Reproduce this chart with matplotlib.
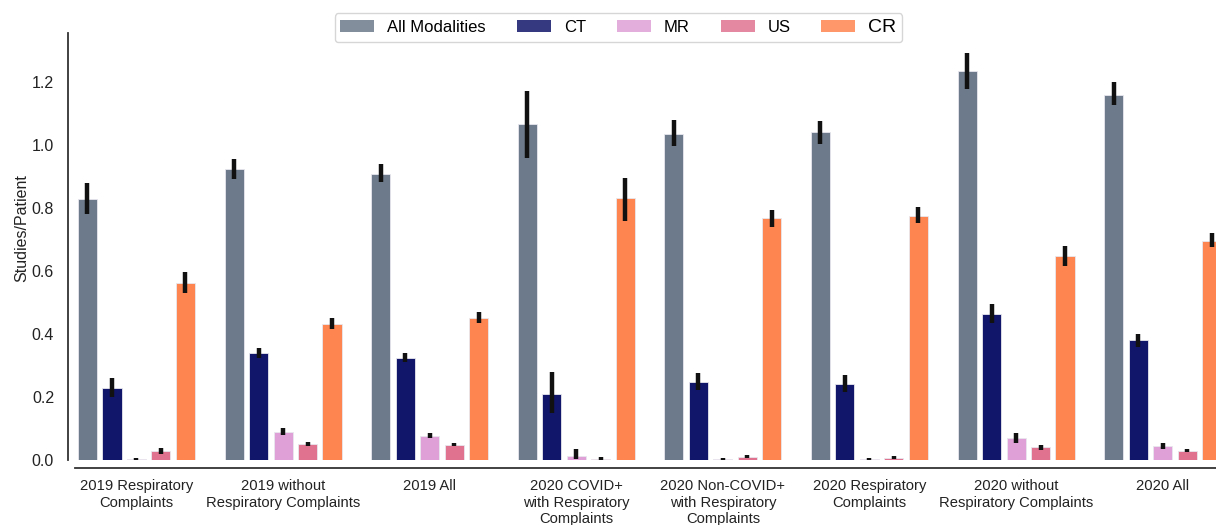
import matplotlib
matplotlib.use("Agg")
import matplotlib.pyplot as plt
import numpy as np
from matplotlib.patches import Patch

plt.rcParams['font.family'] = ['Liberation Sans', 'DejaVu Sans']

categories = [
    "2019 Respiratory\nComplaints",
    "2019 without\nRespiratory Complaints",
    "2019 All",
    "2020 COVID+\nwith Respiratory\nComplaints",
    "2020 Non-COVID+\nwith Respiratory\nComplaints",
    "2020 Respiratory\nComplaints",
    "2020 without\nRespiratory Complaints",
    "2020 All",
]
modalities = ["All Modalities", "CT", "MR", "US", "CR"]
colors = ["#6d7a8b", "#11166a", "#dea0d6", "#e0728f", "#ff8550"]

all_mod = [0.828, 0.922, 0.907, 1.066, 1.035, 1.039, 1.233, 1.158]
all_lo = [0.780, 0.890, 0.881, 0.959, 0.995, 1.002, 1.176, 1.125]
all_hi = [0.878, 0.953, 0.940, 1.169, 1.078, 1.075, 1.290, 1.198]

ct = [0.228, 0.339, 0.322, 0.210, 0.247, 0.241, 0.464, 0.379]
ct_lo = [0.201, 0.324, 0.310, 0.150, 0.221, 0.215, 0.436, 0.358]
ct_hi = [0.259, 0.356, 0.340, 0.278, 0.276, 0.268, 0.496, 0.401]

mr = [0.003, 0.088, 0.077, 0.013, 0.002, 0.003, 0.070, 0.045]
mr_lo = [0.000, 0.080, 0.069, 0.002, 0.000, 0.000, 0.055, 0.036]
mr_hi = [0.006, 0.101, 0.087, 0.034, 0.006, 0.006, 0.085, 0.055]

us = [0.029, 0.050, 0.047, 0.004, 0.008, 0.007, 0.041, 0.027]
us_lo = [0.019, 0.045, 0.043, 0.000, 0.005, 0.004, 0.033, 0.024]
us_hi = [0.038, 0.056, 0.053, 0.011, 0.015, 0.012, 0.049, 0.034]

cr = [0.561, 0.432, 0.451, 0.830, 0.766, 0.775, 0.646, 0.696]
cr_lo = [0.531, 0.415, 0.435, 0.759, 0.740, 0.750, 0.615, 0.675]
cr_hi = [0.595, 0.451, 0.469, 0.895, 0.794, 0.801, 0.679, 0.721]

series = [(all_mod, all_lo, all_hi), (ct, ct_lo, ct_hi), (mr, mr_lo, mr_hi),
          (us, us_lo, us_hi), (cr, cr_lo, cr_hi)]

fig = plt.figure(figsize=(12.16, 5.25), dpi=100)
ax = fig.add_axes([68/1216, 65/525, 1 - 68/1216, (460-33)/525])

x = np.arange(len(categories))
step = 0.167
bw = 0.13
for i, (vals, lo, hi) in enumerate(series):
    pos = x + (i - 2) * step
    vals = np.array(vals); lo = np.array(lo); hi = np.array(hi)
    ax.bar(pos, vals, width=bw, color=colors[i], edgecolor="#e8e8ee", linewidth=0.6, zorder=2)
    ax.vlines(pos, lo, hi, color="#111111", linewidth=3.2, zorder=3)

ax.set_xlim(-0.467, 7.364)
ax.set_ylim(0, 1.354)
ax.set_yticks([0.0, 0.2, 0.4, 0.6, 0.8, 1.0, 1.2])
ax.set_yticklabels(["0.0", "0.2", "0.4", "0.6", "0.8", "1.0", "1.2"])
ax.set_xticks(x)
ax.set_xticklabels(categories, fontsize=10.5, linespacing=1.08)
ax.tick_params(axis='both', length=0, labelsize=11.5, colors="#222222")
ax.tick_params(axis='x', pad=8, labelsize=10.6)
ax.tick_params(axis='y', pad=10)
ax.set_ylabel("Studies/Patient", fontsize=11.5, color="#222222")
ax.yaxis.set_label_coords(-0.034, 0.543)

for s in ["top", "right"]:
    ax.spines[s].set_visible(False)
ax.spines["left"].set_color("#333333")
ax.spines["left"].set_linewidth(1.3)
ax.spines["bottom"].set_color("#333333")
ax.spines["bottom"].set_linewidth(1.3)
ax.spines["bottom"].set_position(("outward", 6))
ax.spines["bottom"].set_bounds(-0.42, 7.364)

handles = [Patch(facecolor=c, alpha=0.85, edgecolor="none") for c in colors]
leg = fig.legend(handles, modalities, loc="center", ncol=5,
                 bbox_to_anchor=(618.5/1216, (525-27.5)/525), frameon=True,
                 fontsize=12, handlelength=2.04, handleheight=0.7,
                 columnspacing=1.85, handletextpad=0.78, borderpad=0.35,
                 fancybox=True, edgecolor="#cccccc")
leg.get_texts()[4].set_fontsize(14)

fig.savefig("out.png", dpi=100)
